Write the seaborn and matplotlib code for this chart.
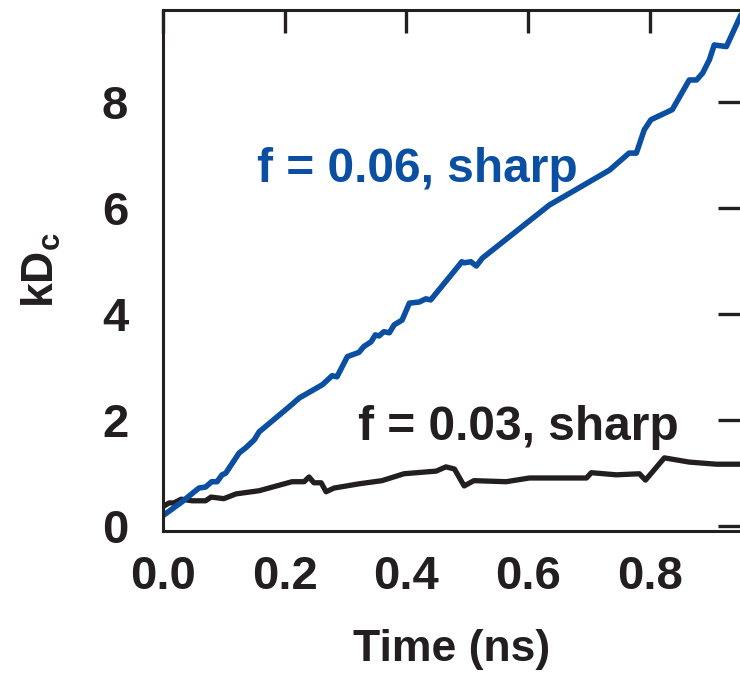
import numpy as np
import pandas as pd
import matplotlib
matplotlib.use("Agg")
import matplotlib.pyplot as plt
import seaborn as sns

# Blue series: f = 0.06, sharp
t_blue = [0.0, 0.03, 0.059, 0.07, 0.08, 0.089, 0.097, 0.103, 0.125, 0.136, 0.15, 0.158,
          0.207, 0.224, 0.262, 0.278, 0.286, 0.303, 0.322, 0.33, 0.342, 0.349, 0.355,
          0.363, 0.372, 0.38, 0.393, 0.405, 0.421, 0.432, 0.44, 0.487, 0.491, 0.495,
          0.506, 0.515, 0.525, 0.569, 0.635, 0.734, 0.766, 0.778, 0.791, 0.802, 0.837,
          0.865, 0.877, 0.887, 0.898, 0.906, 0.926, 0.95]
k_blue = [0.2, 0.45, 0.72, 0.74, 0.84, 0.84, 0.97, 1.0, 1.38, 1.48, 1.63, 1.78,
          2.25, 2.42, 2.67, 2.84, 2.82, 3.2, 3.28, 3.39, 3.48, 3.61, 3.59,
          3.67, 3.65, 3.8, 3.89, 4.21, 4.23, 4.29, 4.27, 4.93, 4.99, 4.97,
          4.99, 4.91, 5.06, 5.46, 6.06, 6.72, 7.04, 7.04, 7.48, 7.67, 7.86,
          8.42, 8.42, 8.55, 8.80, 9.08, 9.05, 9.65]

# Black series: f = 0.03, sharp
t_black = [0.0, 0.01, 0.018, 0.03, 0.048, 0.07, 0.079, 0.1, 0.12, 0.158, 0.212, 0.232,
           0.24, 0.248, 0.26, 0.268, 0.281, 0.322, 0.36, 0.396, 0.449, 0.465, 0.479,
           0.495, 0.511, 0.564, 0.602, 0.696, 0.704, 0.745, 0.783, 0.793, 0.824,
           0.865, 0.91, 0.95]
k_black = [0.37, 0.44, 0.44, 0.51, 0.48, 0.48, 0.55, 0.52, 0.61, 0.67, 0.84, 0.84,
           0.93, 0.82, 0.82, 0.65, 0.72, 0.80, 0.86, 0.99, 1.04, 1.12, 1.08,
           0.76, 0.86, 0.84, 0.91, 0.91, 1.01, 0.97, 0.99, 0.87, 1.29,
           1.21, 1.17, 1.17]

x_ticks = [0.0, 0.2, 0.4, 0.6, 0.8]
y_ticks = [0, 2, 4, 6, 8]
label_blue = "f = 0.06, sharp"
label_black = "f = 0.03, sharp"

BLUE = "#0b4fa2"
BLACK = "#231f20"

sns.set_style("white")
plt.rcParams["font.family"] = ["Liberation Sans", "DejaVu Sans"]
plt.rcParams["font.weight"] = "bold"
plt.rcParams["mathtext.fontset"] = "custom"
plt.rcParams["mathtext.rm"] = "Liberation Sans:bold"
plt.rcParams["mathtext.bf"] = "Liberation Sans:bold"

df_blue = pd.DataFrame({"t": t_blue, "k": k_blue})
df_black = pd.DataFrame({"t": t_black, "k": k_black})

fig = plt.figure(figsize=(7.4, 6.74), dpi=100)
W, H = 740, 674
ax = fig.add_axes([163 / W, 1 - 531 / H, (741 - 163) / W, (531 - 10) / H])

sns.lineplot(data=df_black, x="t", y="k", ax=ax, color=BLACK, lw=3.8, sort=False)
sns.lineplot(data=df_blue, x="t", y="k", ax=ax, color=BLUE, lw=4.0, sort=False)

ax.set_xlim(0, 0.95)
ax.set_ylim(-0.09, 9.74)
ax.set_xticks(x_ticks)
ax.set_xticklabels([f"{v:.1f}" for v in x_ticks])
ax.set_yticks(y_ticks)
ax.set_yticklabels([str(v) for v in y_ticks])

ax.tick_params(axis="both", direction="in", length=16.5, width=2.4, color=BLACK,
               labelsize=34, labelcolor=BLACK, top=True, right=True)
ax.tick_params(axis="x", pad=17)
ax.tick_params(axis="y", pad=25)
for lab in ax.get_xticklabels() + ax.get_yticklabels():
    lab.set_fontweight("bold")

for sp in ax.spines.values():
    sp.set_linewidth(2.2)
    sp.set_color(BLACK)
    sp.set_visible(True)

ax.set_xlabel("Time (ns)", fontsize=32, fontweight="bold", color=BLACK, labelpad=22)
ax.set_ylabel(r"kD$_\mathrm{c}$", fontsize=32, fontweight="bold", color=BLACK, labelpad=28)

ax.text(0.154, 6.50, label_blue, color=BLUE, fontsize=34.5, fontweight="bold",
        ha="left", va="baseline")
ax.text(0.320, 1.63, label_black, color=BLACK, fontsize=34.5, fontweight="bold",
        ha="left", va="baseline")

fig.savefig("out.png", dpi=100)
